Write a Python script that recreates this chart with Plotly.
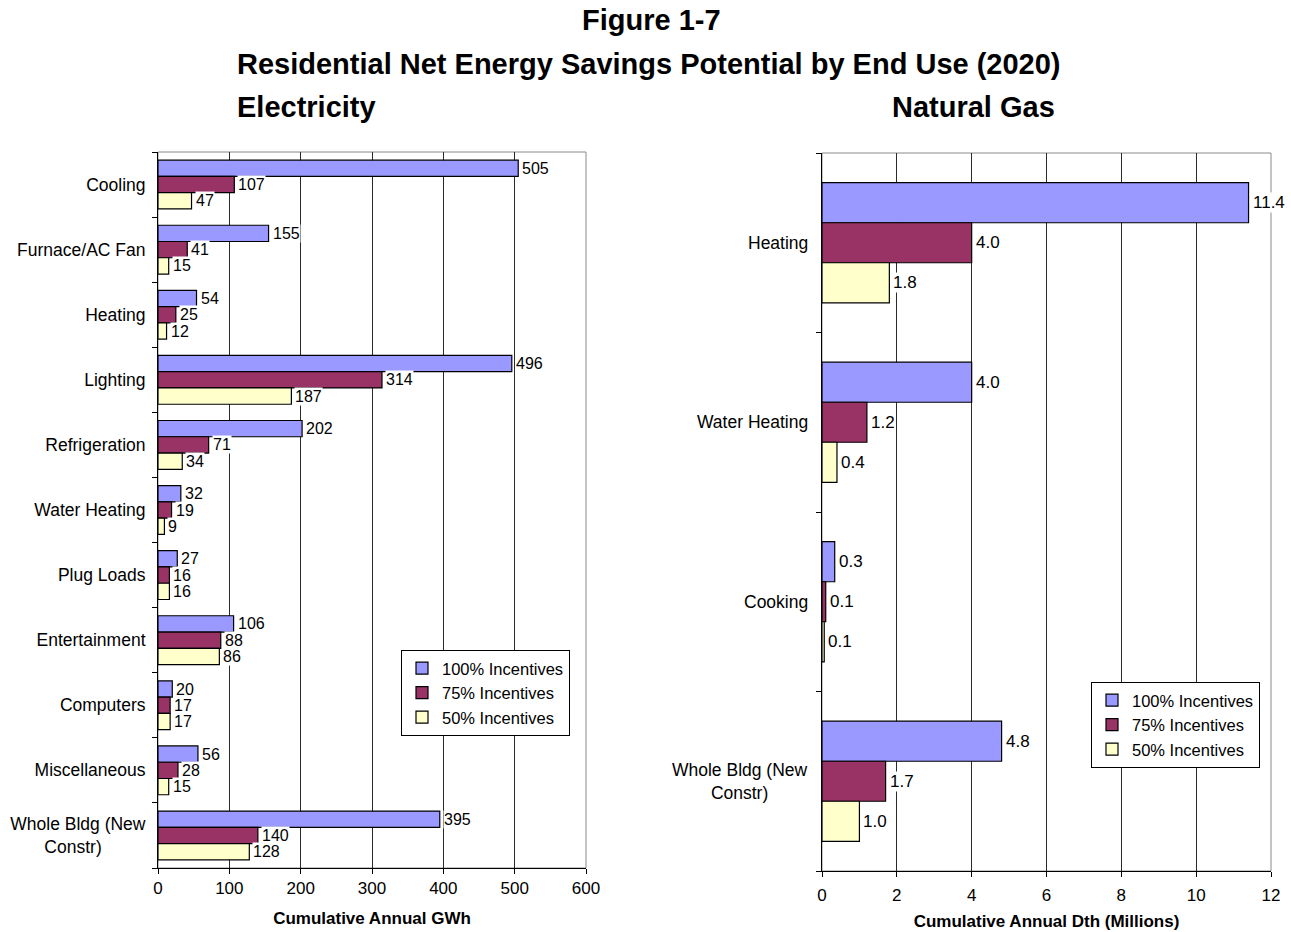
import plotly.graph_objects as go

FONT = "Arial, Liberation Sans, sans-serif"

elec_categories = ["Cooling", "Furnace/AC Fan", "Heating", "Lighting", "Refrigeration",
                   "Water Heating", "Plug Loads", "Entertainment", "Computers",
                   "Miscellaneous", "Whole Bldg (New<br>Constr)"]
elec_100 = [505, 155, 54, 496, 202, 32, 27, 106, 20, 56, 395]
elec_75 = [107, 41, 25, 314, 71, 19, 16, 88, 17, 28, 140]
elec_50 = [47, 15, 12, 187, 34, 9, 16, 86, 17, 15, 128]

gas_categories = ["Heating", "Water Heating", "Cooking", "Whole Bldg (New<br>Constr)"]
gas_100 = [11.4, 4.0, 0.34, 4.8]
gas_75 = [4.0, 1.2, 0.1, 1.7]
gas_50 = [1.8, 0.4, 0.06, 1.0]

series_names = ["100% Incentives", "75% Incentives", "50% Incentives"]
series_colors = ["#9999FF", "#993366", "#FFFFCC"]

fig = go.Figure()

elec_w = 0.25
gas_w = 0.223


def add_labels(fig, vals, texts, w, i, xref, yref, size):
    for k, (v, t) in enumerate(zip(vals, texts)):
        fig.add_annotation(x=v, y=k + (i - 1) * w, xref=xref, yref=yref, text=t,
                           showarrow=False, xanchor="left", yanchor="middle", xshift=3,
                           bgcolor="white", borderpad=0,
                           font=dict(size=size, family=FONT, color="black"))


for i, (vals, name, col) in enumerate(zip([elec_100, elec_75, elec_50], series_names, series_colors)):
    fig.add_trace(go.Bar(
        y=list(range(len(elec_categories))), x=vals, orientation="h", name=name,
        marker=dict(color=col, line=dict(color="black", width=1.2)),
        width=elec_w, offset=-1.5 * elec_w + i * elec_w,
        xaxis="x", yaxis="y", legend="legend", showlegend=True))
    add_labels(fig, vals, [str(v) for v in vals], elec_w, i, "x", "y", 16)
for i, (vals, name, col) in enumerate(zip([gas_100, gas_75, gas_50], series_names, series_colors)):
    fig.add_trace(go.Bar(
        y=list(range(len(gas_categories))), x=vals, orientation="h", name=name,
        marker=dict(color=col, line=dict(color="black", width=1.2)),
        width=gas_w, offset=-1.5 * gas_w + i * gas_w,
        xaxis="x2", yaxis="y2", legend="legend2", showlegend=True))
    add_labels(fig, vals, [f"{v:.1f}" for v in vals], gas_w, i, "x2", "y2", 17)

W, H = 1291, 932
lx0, lx1 = 158 / W, 586 / W
ly0, ly1 = 1 - 868 / H, 1 - 152 / H
rx0, rx1 = 822 / W, 1271 / W
ry0, ry1 = 1 - 871 / H, 1 - 153 / H

TICK_SIZE = 17
CAT_SIZE = 17.5

axis_common = dict(showline=True, linecolor="black", linewidth=1, ticks="outside",
                   ticklen=5, tickcolor="black", automargin=False,
                   tickfont=dict(size=TICK_SIZE, family=FONT, color="black"),
                   zeroline=False)

elec_ticktext = list(elec_categories)
elec_ticktext[-1] = elec_ticktext[-1] + "\u00a0" * 9

fig.update_layout(
    width=W, height=H, margin=dict(l=0, r=0, t=0, b=0, autoexpand=False),
    paper_bgcolor="white", plot_bgcolor="white",
    barmode="overlay",
    font=dict(family=FONT, color="black"),
    xaxis=dict(domain=[lx0, lx1], range=[0, 600], dtick=100, showgrid=True,
               gridcolor="#2a2a2a", gridwidth=1, anchor="y",
               title=dict(text="<b>Cumulative Annual GWh</b>", font=dict(size=17, family=FONT), standoff=14),
               **axis_common),
    yaxis=dict(domain=[ly0, ly1], range=[len(elec_categories) - 0.5, -0.5],
               tickmode="array", tickvals=list(range(len(elec_categories))), ticktext=elec_ticktext,
               showgrid=False, anchor="x", ticklabelstandoff=8,
               **{**axis_common, "ticks": "",
                  "tickfont": dict(size=CAT_SIZE, family=FONT, color="black")},
               minor=dict(ticks="outside", ticklen=5, tickcolor="black", tickmode="array",
                          tickvals=[i - 0.5 for i in range(len(elec_categories) + 1)],
                          showgrid=False)),
    xaxis2=dict(domain=[rx0, rx1], range=[0, 12], dtick=2, showgrid=True,
                gridcolor="#2a2a2a", gridwidth=1, anchor="y2", ticklabelstandoff=4,
                title=dict(text="<b>Cumulative Annual Dth (Millions)</b>", font=dict(size=17, family=FONT), standoff=10),
                **{**axis_common, "ticklen": 5}),
    yaxis2=dict(domain=[ry0, ry1], range=[len(gas_categories) - 0.5, -0.5],
                tickmode="array", tickvals=[i - 0.5 for i in range(len(gas_categories) + 1)],
                ticktext=[""] * (len(gas_categories) + 1),
                showgrid=False, anchor="x2",
                **axis_common),
    legend=dict(x=401 / W, y=1 - 650 / H, xanchor="left", yanchor="top",
                bgcolor="white", bordercolor="black", borderwidth=1,
                font=dict(size=16.5, family=FONT), tracegroupgap=0, itemwidth=30),
    legend2=dict(x=1091 / W, y=1 - 682 / H, xanchor="left", yanchor="top",
                 bgcolor="white", bordercolor="black", borderwidth=1,
                 font=dict(size=16.5, family=FONT), tracegroupgap=0, itemwidth=30),
)

# Gas category labels (annotations so multi-line text is centered)
for i, lab in enumerate(gas_categories):
    fig.add_annotation(x=0, xref="x2 domain", y=i, yref="y2", text=lab, showarrow=False,
                       xanchor="right", align="center", xshift=-12,
                       font=dict(size=CAT_SIZE, family=FONT, color="black"))

# plot area borders (top/right in gray)
for xr, yr in [("x domain", "y domain"), ("x2 domain", "y2 domain")]:
    fig.add_shape(type="rect", xref=xr, yref=yr, x0=0, x1=1, y0=0, y1=1,
                  line=dict(color="#8a8a8a", width=1), layer="below")

titles = [("<b>Figure 1-7</b>", 651, 20), ("<b>Residential Net Energy Savings Potential by End Use (2020)</b>", 649, 64),
          ("<b>Electricity</b>", 306, 107), ("<b>Natural Gas</b>", 973, 107)]
for txt, px, py in titles:
    fig.add_annotation(x=px / W, y=1 - py / H, xref="paper", yref="paper", text=txt,
                       showarrow=False, xanchor="center", yanchor="middle",
                       font=dict(size=29, family=FONT, color="black"))

fig.write_html("out.html")
